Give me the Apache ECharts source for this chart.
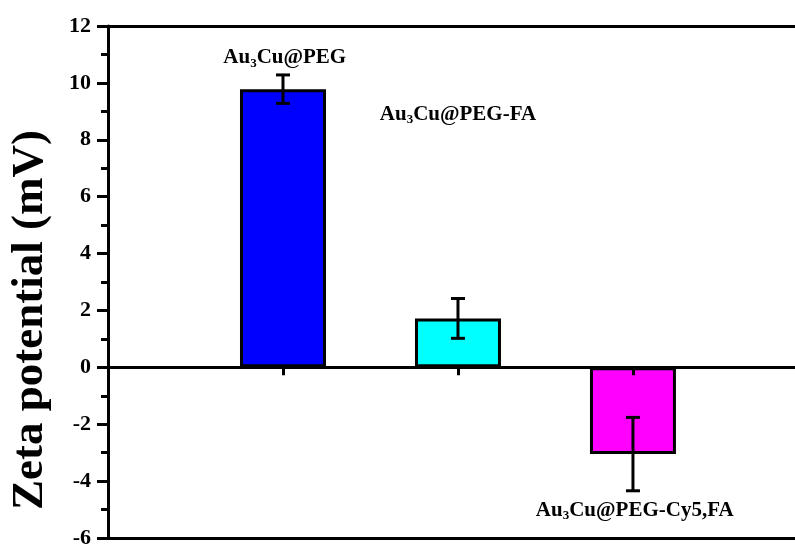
<!DOCTYPE html>
<html>
<head>
<meta charset="utf-8">
<script src="https://cdn.jsdelivr.net/npm/echarts@6/dist/echarts.min.js"></script>
<style>
  html, body { margin: 0; padding: 0; background: #ffffff; }
  #chart { width: 795px; height: 549px; }
</style>
</head>
<body>
<div id="chart"></div>
<script>
// Zeta potential of the three nanoparticle formulations (mean ± SD, mV)
const categories = ['Au3Cu@PEG', 'Au3Cu@PEG-FA', 'Au3Cu@PEG-Cy5,FA'];
const zetaMean = [9.78, 1.72, -3.05];
const zetaErr = [0.50, 0.70, 1.29];

// Y axis range and tick step
const yMin = -6;
const yMax = 12;
const yStep = 2;

// Fill colour of each bar
const barColors = ['#0000ff', '#00ffff', '#ff00ff'];

const SERIF = '"Times New Roman", "Liberation Serif", serif';

// "Au3Cu..." -> rich text with subscript 3
function richName(name) {
  return name.replace('Au3Cu', 'Au{s|3}Cu');
}

// Annotation anchors (x in category slots, y in mV)
const labelAnchors = [
  [1.01, 10.88],
  [2.0, 8.9],
  [3.01, -5.02]
];

// Visible x range: slots 1..3, frame runs off the right edge
const xMin = 0;
const xMax = 3.926;
const slotTicks = categories.map((_, i) => i + 1);

const chart = echarts.init(document.getElementById('chart'), null, { renderer: 'canvas' });

const frameLine = { show: true, onZero: false, lineStyle: { color: '#000', width: 3 } };

const option = {
  backgroundColor: '#ffffff',
  animation: false,
  grid: {
    left: 108,
    top: 26,
    right: 0,
    height: 515,
    show: false
  },
  xAxis: [
    {
      type: 'value',
      min: xMin,
      max: xMax,
      interval: 1,
      z: 5,
      axisLine: { show: true, onZero: true, lineStyle: { color: '#000', width: 3 } },
      axisTick: { show: true, length: 8, customValues: slotTicks, lineStyle: { color: '#000', width: 3 } },
      axisLabel: { show: false },
      splitLine: { show: false }
    },
    {
      // top frame line
      type: 'value', position: 'top', min: xMin, max: xMax,
      axisLine: frameLine, axisTick: { show: false }, axisLabel: { show: false }, splitLine: { show: false }
    },
    {
      // bottom frame line at -6
      type: 'value', position: 'bottom', min: xMin, max: xMax,
      axisLine: frameLine, axisTick: { show: false }, axisLabel: { show: false }, splitLine: { show: false }
    }
  ],
  yAxis: {
    type: 'value',
    min: yMin,
    max: yMax,
    interval: yStep,
    z: 5,
    axisLine: { show: true, onZero: false, lineStyle: { color: '#000', width: 3 } },
    axisTick: { show: true, length: 11, lineStyle: { color: '#000', width: 3 } },
    minorTick: { show: true, splitNumber: 2, length: 7, lineStyle: { color: '#000', width: 3 } },
    axisLabel: {
      color: '#000',
      fontFamily: SERIF,
      fontWeight: 'bold',
      fontSize: 22,
      margin: 17
    },
    splitLine: { show: false }
  },
  graphic: [{
    type: 'text',
    x: 30,
    y: 320,
    rotation: Math.PI / 2,
    style: {
      text: 'Zeta potential (mV)',
      fill: '#000',
      font: 'bold 45px ' + SERIF,
      textAlign: 'center',
      textVerticalAlign: 'middle'
    }
  }],
  series: [
    {
      type: 'bar',
      xAxisIndex: 0,
      barWidth: 86,
      z: 2,
      itemStyle: { borderColor: '#000', borderWidth: 3 },
      data: zetaMean.map((v, i) => ({
        value: [i + 1, v],
        itemStyle: { color: barColors[i] }
      })),
      markPoint: {
        symbol: 'circle',
        symbolSize: 0,
        silent: true,
        animation: false,
        itemStyle: { color: 'transparent' },
        label: {
          show: true,
          position: 'inside',
          color: '#000',
          fontFamily: SERIF,
          fontWeight: 'bold',
          fontSize: 21,
          lineHeight: 24,
          rich: {
            s: {
              fontFamily: SERIF,
              fontWeight: 'bold',
              fontSize: 13,
              lineHeight: 13,
              verticalAlign: 'bottom',
              color: '#000'
            }
          }
        },
        data: categories.map((name, i) => ({
          coord: labelAnchors[i],
          label: { formatter: richName(name) }
        }))
      }
    },
    {
      // error bars with end caps
      type: 'custom',
      xAxisIndex: 0,
      z: 4,
      silent: true,
      data: zetaMean.map((v, i) => [i + 1, v - zetaErr[i], v + zetaErr[i]]),
      renderItem: function (params, api) {
        const x = api.value(0);
        const lo = api.coord([x, api.value(1)]);
        const hi = api.coord([x, api.value(2)]);
        const cap = 7;
        const st = { stroke: '#000', lineWidth: 3 };
        return {
          type: 'group',
          children: [
            { type: 'line', shape: { x1: lo[0], y1: lo[1], x2: hi[0], y2: hi[1] }, style: st },
            { type: 'line', shape: { x1: lo[0] - cap, y1: lo[1], x2: lo[0] + cap, y2: lo[1] }, style: st },
            { type: 'line', shape: { x1: hi[0] - cap, y1: hi[1], x2: hi[0] + cap, y2: hi[1] }, style: st }
          ]
        };
      }
    }
  ]
};

chart.setOption(option);
</script>
</body>
</html>
